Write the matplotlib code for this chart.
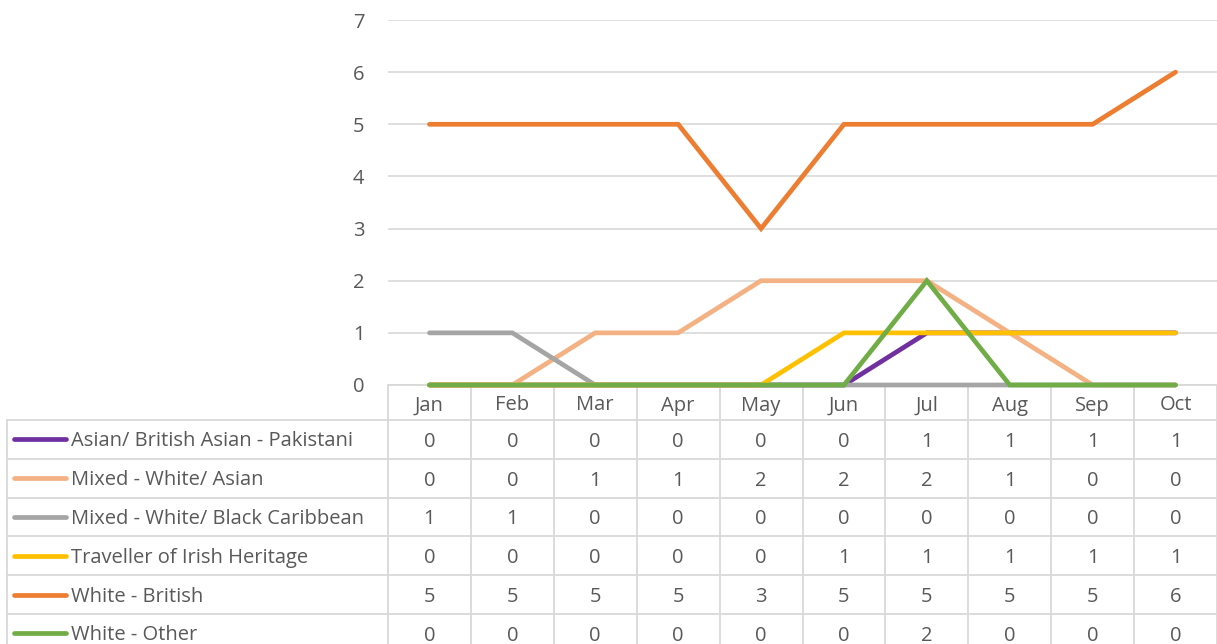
#!/usr/bin/env python3
"""Monthly counts by ethnicity: line chart with data table underneath."""

import matplotlib as mpl
import matplotlib.pyplot as plt
import numpy as np
from matplotlib.transforms import blended_transform_factory

MONTHS = ["Jan", "Feb", "Mar", "Apr", "May", "Jun", "Jul", "Aug", "Sep", "Oct"]
SERIES_NAMES = [
    "Asian/ British Asian - Pakistani",
    "Mixed - White/ Asian",
    "Mixed - White/ Black Caribbean",
    "Traveller of Irish Heritage",
    "White - British",
    "White - Other",
]
PAKISTANI = [0, 0, 0, 0, 0, 0, 1, 1, 1, 1]
MIXED_WHITE_ASIAN = [0, 0, 1, 1, 2, 2, 2, 1, 0, 0]
MIXED_WHITE_BLACK_CARIB = [1, 1, 0, 0, 0, 0, 0, 0, 0, 0]
TRAVELLER_IRISH = [0, 0, 0, 0, 0, 1, 1, 1, 1, 1]
WHITE_BRITISH = [5, 5, 5, 5, 3, 5, 5, 5, 5, 6]
WHITE_OTHER = [0, 0, 0, 0, 0, 0, 2, 0, 0, 0]
SERIES_VALUES = [
    PAKISTANI,
    MIXED_WHITE_ASIAN,
    MIXED_WHITE_BLACK_CARIB,
    TRAVELLER_IRISH,
    WHITE_BRITISH,
    WHITE_OTHER,
]
COLORS = ["#7030A0", "#F4B183", "#A5A5A5", "#FFC000", "#ED7D31", "#70AD47"]

W, H = 1217, 644
TEXT = "#595959"
GRID = "#D9D9D9"
FS = 14.5

mpl.rcParams.update({"font.family": ["Open Sans", "DejaVu Sans"]})

fig = plt.figure(figsize=(W / 100, H / 100), dpi=100)
# plot area in pixels: x 388..1217, y 20..385
ax = fig.add_axes([388 / W, 1 - 385 / H, (W - 388) / W, 365 / H])

x = np.arange(len(MONTHS))
for vals, color in zip(SERIES_VALUES, COLORS):
    ax.plot(x, vals, color=color, lw=3.4, solid_capstyle="round",
            solid_joinstyle="miter", clip_on=False, zorder=3)

ax.set_xlim(-0.5, len(MONTHS) - 0.5)
ax.set_ylim(0, 7)
ax.set_yticks(range(8))
ax.grid(axis="y", color=GRID, lw=1.2)
ax.set_axisbelow(True)
ax.set_xticks([])
for s in ["top", "right", "left", "bottom"]:
    ax.spines[s].set_visible(False)
ax.tick_params(axis="y", length=0, pad=17, labelsize=FS, labelcolor=TEXT)

# ---- data table below the axes ----
def ay(py):
    # pixel row -> axes fraction
    return (385 - py) / 365

row_top = 420
row_h = 38.8
bt = blended_transform_factory(ax.transData, ax.transAxes)
ft = fig.transFigure

# column separators (start at axis line)
for i in range(len(MONTHS) + 1):
    ax.plot([i - 0.5, i - 0.5], [ay(385), ay(H + 5)], transform=bt,
            color=GRID, lw=1.3, clip_on=False, zorder=1)
# top line of header
ax.plot([-0.5, len(MONTHS) - 0.5], [0, 0], transform=bt, color=GRID,
        lw=1.3, clip_on=False, zorder=1)
# left border for legend column
fig.add_artist(plt.Line2D([7 / W, 7 / W], [1 - row_top / H, 0], transform=ft,
                          color=GRID, lw=1.3))
# horizontal row lines
for r in range(len(SERIES_NAMES) + 1):
    py = row_top + r * row_h
    fig.add_artist(plt.Line2D([7 / W, 1], [1 - py / H, 1 - py / H],
                              transform=ft, color=GRID, lw=1.3))

# header labels
for i, m in enumerate(MONTHS):
    ax.text(i, ay((385 + row_top) / 2 + 3), m, transform=bt, ha="center",
            va="center", fontsize=FS, color=TEXT, clip_on=False)

# rows
for r, (name, vals, color) in enumerate(zip(SERIES_NAMES, SERIES_VALUES, COLORS)):
    cy = row_top + (r + 0.5) * row_h
    fig.add_artist(plt.Line2D([14 / W, 66 / W], [1 - cy / H, 1 - cy / H],
                              transform=ft, color=color, lw=3.4,
                              solid_capstyle="round"))
    fig.text(71 / W, 1 - (cy + 2) / H, name, ha="left", va="center",
             fontsize=FS, color=TEXT)
    for i, v in enumerate(vals):
        ax.text(i, ay(cy + 2.5), str(v), transform=bt, ha="center",
                va="center", fontsize=FS, color=TEXT, clip_on=False)

fig.savefig("out.png", dpi=100)
